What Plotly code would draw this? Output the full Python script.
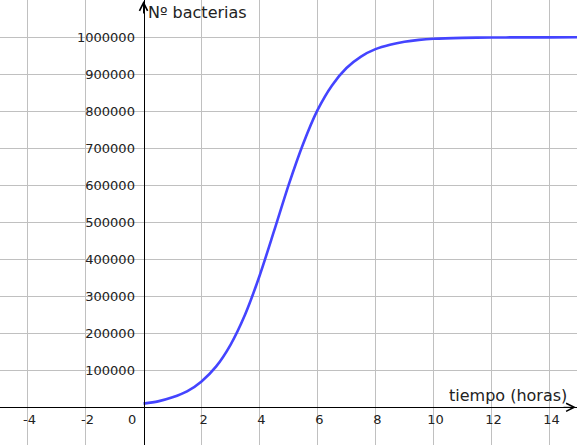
import plotly.graph_objects as go

# Data
tiempo = [0, 0.5, 1, 1.5, 2, 2.5, 3, 3.5, 4, 4.5, 5, 5.5, 6, 6.5, 7, 7.5, 8,
          8.5, 9, 9.5, 10, 11, 12, 13, 14, 15]
bacterias = [10000, 16000, 27000, 43000, 70000, 110000, 169000, 250000, 355000,
             476000, 600000, 711000, 803000, 870000, 917000, 948000, 968000,
             980000, 988000, 993000, 996000, 998500, 999400, 999800, 999900, 1000000]

x_ticks = [-4, -2, 2, 4, 6, 8, 10, 12, 14]
x_ticktext = ["-4", "-2", "2", "4", "6", "8", "10", "12", "14"]
y_ticks = [-100000, 100000, 200000, 300000, 400000, 500000, 600000, 700000,
           800000, 900000, 1000000]
y_ticktext = [""] + [str(v) for v in y_ticks[1:]]

x_range = [-4.95, 14.95]
y_range = [-101900, 1100800]

font = "DejaVu Sans, sans-serif"

fig = go.Figure()
fig.add_trace(go.Scatter(x=tiempo, y=bacterias, mode="lines",
                         line=dict(color="#4444ff", width=2.6, shape="spline", smoothing=0.8),
                         hoverinfo="skip", showlegend=False))

ypos = (0 - y_range[0]) / (y_range[1] - y_range[0])
xpos = (0 - x_range[0]) / (x_range[1] - x_range[0])

fig.update_layout(
    width=577, height=445,
    margin=dict(l=0, r=0, t=0, b=0),
    paper_bgcolor="white", plot_bgcolor="white",
    font=dict(family=font, size=12, color="#222222"),
    xaxis=dict(range=x_range, tickvals=x_ticks, ticktext=x_ticktext,
               showgrid=True, gridcolor="#c0c0c0", gridwidth=1,
               zeroline=False, showline=True, linecolor="black", linewidth=1,
               anchor="free", position=ypos, ticks="", ticklabelstandoff=0,
               ticklabelshift=2, tickfont=dict(size=13, family=font, color="#222")),
    yaxis=dict(range=y_range, tickvals=y_ticks, ticktext=y_ticktext,
               showgrid=True, gridcolor="#c0c0c0", gridwidth=1,
               zeroline=False, showline=True, linecolor="black", linewidth=1,
               anchor="free", position=xpos, ticks="", ticklabelstandoff=6,
               tickfont=dict(size=13, family=font, color="#222")),
    annotations=[
        dict(x=0, y=y_range[1], xref="x", yref="y", xanchor="left", yanchor="top",
             text="Nº bacterias", showarrow=False, xshift=2, yshift=-1,
             font=dict(size=16, family=font, color="#222")),
        dict(x=x_range[1], y=0, xref="x", yref="y", xanchor="right", yanchor="bottom",
             text="tiempo (horas)", showarrow=False, xshift=-8, yshift=0,
             font=dict(size=16, family=font, color="#222")),
        dict(x=0, y=0, xref="x", yref="y", xanchor="right", yanchor="top",
             text="0", showarrow=False, xshift=-6, yshift=-3,
             font=dict(size=13, family=font, color="#222")),
        # axis arrow heads
        dict(x=x_range[1], y=0, xref="x", yref="y", ax=-15, ay=0, text="",
             showarrow=True, arrowhead=5, arrowsize=1.6, arrowwidth=1,
             arrowcolor="black", standoff=1),
        dict(x=0, y=y_range[1], xref="x", yref="y", ax=0, ay=15, text="",
             showarrow=True, arrowhead=5, arrowsize=1.6, arrowwidth=1,
             arrowcolor="black", standoff=1),
    ],
)

fig.write_html("out.html")
